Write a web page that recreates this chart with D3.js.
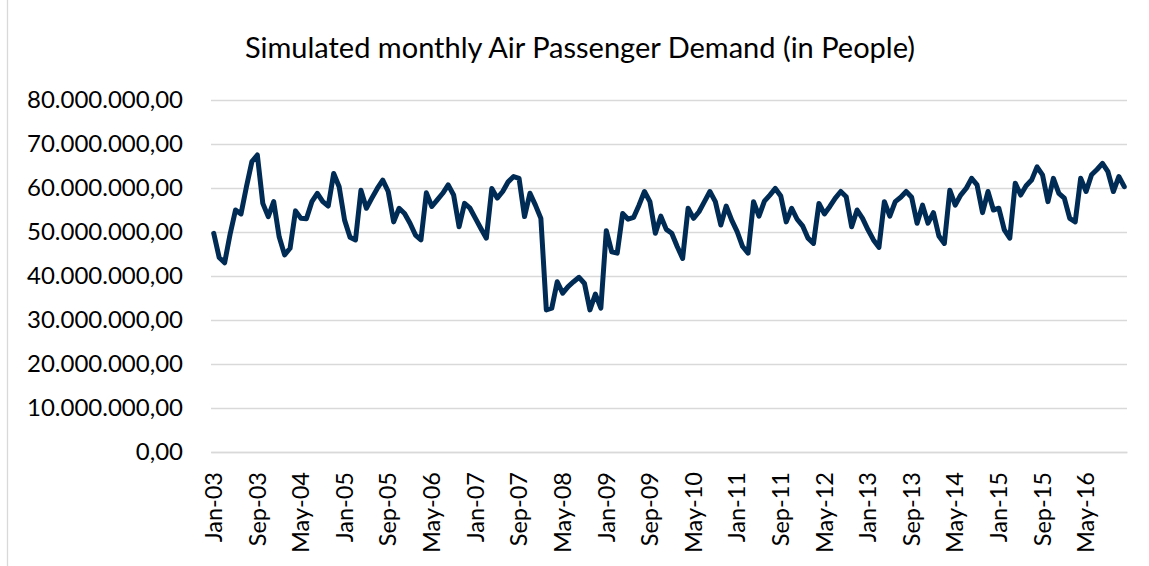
<!DOCTYPE html>
<head>
    <meta charset='utf-8'>
    <title>Simulated monthly Air Passenger Demand</title>
    <script src='https://d3js.org/d3.v7.min.js'></script>
    <style>
        html, body {
            margin: 0px;
            padding: 0px;
            background: white;
        }
        svg {
            display: block;
            font-family: Lato, 'Open Sans', sans-serif;
        }
        .grid line {
            stroke: #d9d9d9;
            stroke-width: 1.3px;
        }
        .tick text {
            fill: #000;
        }
    </style>
</head>

<body>
    <div id='chart'></div>

    <script>
        // monthly demand in millions of people, Jan-03 .. Dec-16
        var demand = [
            49.7, 44.2, 43.0, 49.5, 55.0, 54.1, 60.3, 66.0, 67.5, 56.5, 53.5, 56.9,
            48.9, 44.8, 46.3, 54.8, 53.1, 53.0, 56.9, 58.8, 56.9, 55.9, 63.3, 60.3,
            52.7, 48.8, 48.2, 59.5, 55.4, 57.7, 59.9, 61.8, 59.2, 52.3, 55.4, 54.2,
            52.0, 49.3, 48.2, 58.9, 55.8, 57.3, 58.8, 60.7, 58.4, 51.2, 56.5, 55.4,
            53.1, 50.8, 48.6, 59.9, 57.7, 59.2, 61.4, 62.6, 62.2, 53.5, 58.8, 56.1,
            53.1, 32.3, 32.7, 38.7, 36.1, 37.6, 38.7, 39.7, 38.3, 32.3, 35.9, 32.7,
            50.3, 45.5, 45.2, 54.2, 52.9, 53.3, 56.1, 59.2, 56.9, 49.7, 53.6, 50.6,
            49.7, 46.7, 44.0, 55.4, 53.1, 54.6, 56.9, 59.2, 56.9, 51.6, 55.9, 52.7,
            50.1, 46.7, 45.2, 56.9, 53.6, 57.0, 58.4, 59.9, 58.2, 52.3, 55.4, 52.9,
            51.4, 48.6, 47.4, 56.5, 54.1, 55.8, 57.7, 59.2, 58.0, 51.2, 55.0, 53.1,
            50.5, 48.2, 46.5, 56.9, 53.6, 56.9, 57.9, 59.2, 57.9, 52.0, 56.1, 52.0,
            54.4, 49.1, 47.4, 59.5, 56.1, 58.4, 59.9, 62.2, 60.7, 54.4, 59.2, 55.0,
            55.4, 50.5, 48.6, 61.1, 58.4, 60.5, 61.8, 64.8, 63.0, 56.9, 62.2, 58.8,
            57.7, 53.1, 52.3, 62.2, 59.2, 63.0, 64.2, 65.6, 63.7, 59.2, 62.6, 60.3
        ];

        var fmtMonth = d3.timeFormat('%b-%y');
        var months = d3.timeMonth.range(new Date(2003, 0, 1), new Date(2017, 0, 1)).map(fmtMonth);

        var xTickLabels = ['Jan-03', 'Sep-03', 'May-04', 'Jan-05', 'Sep-05', 'May-06', 'Jan-07',
            'Sep-07', 'May-08', 'Jan-09', 'Sep-09', 'May-10', 'Jan-11', 'Sep-11', 'May-12',
            'Jan-13', 'Sep-13', 'May-14', 'Jan-15', 'Sep-15', 'May-16'];

        var yTicks = [0, 10e6, 20e6, 30e6, 40e6, 50e6, 60e6, 70e6, 80e6];

        var title = 'Simulated monthly Air Passenger Demand (in People)';

        var width = 1149, height = 566;
        var margin = {left: 211, right: 22, top: 100, bottom: 114};

        var svg = d3.select('#chart').append('svg')
            .attr('width', width)
            .attr('height', height);

        // chart frame (only the left edge shows in the picture)
        svg.append('line')
            .attr('x1', 7.5).attr('x2', 7.5)
            .attr('y1', 0).attr('y2', height)
            .attr('stroke', '#d9d9d9')
            .attr('stroke-width', 1.3);

        var x = d3.scaleBand()
            .domain(months)
            .range([margin.left, width - margin.right])
            .padding(0);

        var y = d3.scaleLinear()
            .domain([0, 80e6])
            .range([height - margin.bottom, margin.top]);

        var locale = d3.formatLocale({decimal: ',', thousands: '.', grouping: [3], currency: ['', '']});
        var fmtY = locale.format(',.2f');

        // horizontal gridlines + y labels
        var yAxis = svg.append('g')
            .attr('class', 'grid')
            .attr('transform', 'translate(' + margin.left + ',0)')
            .call(d3.axisLeft(y)
                .tickValues(yTicks)
                .tickFormat(fmtY)
                .tickSize(-(width - margin.left - margin.right))
                .tickPadding(28));
        yAxis.select('.domain').remove();
        yAxis.selectAll('.tick text')
            .style('font-size', '24px')
            .style('font-family', 'Lato');

        // x axis with rotated labels
        var xAxis = svg.append('g')
            .attr('transform', 'translate(0,' + y(0) + ')')
            .call(d3.axisBottom(x)
                .tickValues(xTickLabels)
                .tickSize(0));
        xAxis.select('.domain')
            .attr('stroke', '#d9d9d9')
            .attr('stroke-width', 1.3);
        xAxis.selectAll('.tick text')
            .style('font-size', '23.5px')
            .style('font-family', 'Lato')
            .attr('text-anchor', 'end')
            .attr('dy', '0.35em')
            .attr('transform', 'translate(0,20) rotate(-90)')
            .attr('x', 0)
            .attr('y', 0);

        var line = d3.line()
            .x(function(d, i) { return x(months[i]) + x.bandwidth() / 2; })
            .y(function(d) { return y(d * 1e6); });

        svg.append('path')
            .datum(demand)
            .attr('fill', 'none')
            .attr('stroke', '#002b54')
            .attr('stroke-width', 5)
            .attr('stroke-linejoin', 'round')
            .attr('stroke-linecap', 'round')
            .attr('d', line);

        svg.append('text')
            .attr('x', 580)
            .attr('y', 58)
            .attr('text-anchor', 'middle')
            .style('font-size', '29px')
            .style('font-family', 'Lato')
            .text(title);
    </script>
</body>
